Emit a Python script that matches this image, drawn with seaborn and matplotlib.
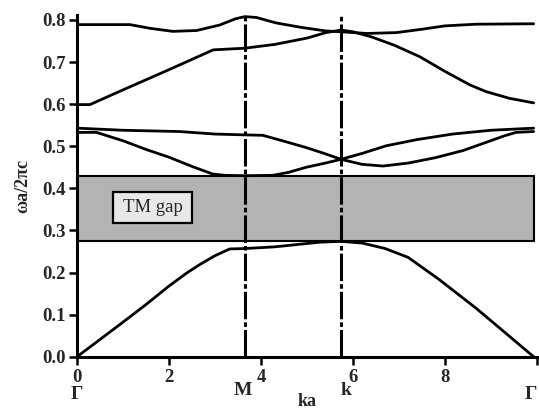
import matplotlib
matplotlib.use("Agg")
import matplotlib.pyplot as plt
from matplotlib.patches import Rectangle
import matplotlib.transforms as mtransforms
import numpy as np
import pandas as pd
import seaborn as sns

# symmetry points along Gamma - M - K - Gamma (ka)
sym_names = ["Γ", "M", "k", "Γ"]
sym_ka = [0.0, 3.65, 5.74, 9.93]

# photonic bands (ka, omega a / 2 pi c)
band1_ka = [0, 0.5, 1.07, 1.5, 2.0, 2.4, 2.67, 3.0, 3.32, 3.65, 4.3, 5.27, 5.74,
            6.2, 6.7, 7.2, 7.88, 8.68, 9.3, 9.93]
band1_w = [0, 0.041, 0.088, 0.124, 0.168, 0.2, 0.219, 0.24, 0.256, 0.257, 0.261,
           0.272, 0.274, 0.27, 0.257, 0.236, 0.183, 0.115, 0.058, 0]

band2_ka = [0, 0.42, 1.0, 1.51, 2.0, 2.5, 2.95, 3.2, 3.65, 4.26, 4.6, 4.98, 5.4,
            5.74, 6.2, 6.72, 7.4, 8.17, 9.0, 9.93]
band2_w = [0.533, 0.533, 0.513, 0.492, 0.474, 0.452, 0.434, 0.431, 0.43, 0.431,
           0.438, 0.45, 0.46, 0.469, 0.483, 0.501, 0.516, 0.529, 0.538, 0.543]

band3_ka = [0, 1.0, 2.22, 3.0, 3.65, 4.04, 4.5, 4.98, 5.4, 5.74, 6.2, 6.65, 7.2,
            7.8, 8.4, 8.89, 9.3, 9.55, 9.93]
band3_w = [0.543, 0.538, 0.535, 0.529, 0.527, 0.526, 0.512, 0.497, 0.482, 0.469,
           0.457, 0.453, 0.46, 0.473, 0.49, 0.509, 0.525, 0.533, 0.535]

band4_ka = [0, 0.28, 1.0, 2.0, 2.96, 3.65, 4.3, 5.0, 5.41, 5.74, 6.0, 6.4, 6.9,
            7.45, 8.0, 8.54, 8.89, 9.4, 9.93]
band4_w = [0.599, 0.599, 0.634, 0.682, 0.729, 0.733, 0.742, 0.757, 0.77, 0.776,
           0.772, 0.76, 0.74, 0.713, 0.678, 0.646, 0.63, 0.614, 0.603]

band5_ka = [0, 1.15, 1.6, 2.08, 2.6, 3.1, 3.45, 3.65, 3.9, 4.33, 4.9, 5.41, 5.74,
            6.3, 6.94, 7.5, 8.0, 8.68, 9.93]
band5_w = [0.789, 0.789, 0.78, 0.773, 0.775, 0.788, 0.803, 0.808, 0.806, 0.793,
           0.782, 0.774, 0.772, 0.768, 0.77, 0.778, 0.786, 0.79, 0.791]

# TM band gap
gap_lo, gap_hi = 0.274, 0.43
gap_label = "TM gap"

x_ticks = [0, 2, 4, 6, 8, 10]
x_ticklabels = ["0", "2", "4", "6", "8", ""]
y_ticks = [0.0, 0.1, 0.2, 0.3, 0.4, 0.5, 0.6, 0.7, 0.8]


def main():
    bands = [(band1_ka, band1_w), (band2_ka, band2_w), (band3_ka, band3_w),
             (band4_ka, band4_w), (band5_ka, band5_w)]
    df = pd.concat(
        [pd.DataFrame({"ka": k, "w": w, "band": i}) for i, (k, w) in enumerate(bands)],
        ignore_index=True,
    )

    sns.set_style("ticks")
    plt.rcParams["font.family"] = ["Liberation Serif", "DejaVu Serif"]

    fig = plt.figure(figsize=(5.39, 4.15), dpi=100)
    ax = fig.add_axes([0.143, 0.1405, 0.853, 0.8235])

    # gap band
    ax.add_patch(Rectangle((0, gap_lo), sym_ka[-1], gap_hi - gap_lo,
                           facecolor="#b3b3b3", edgecolor="black", lw=1.5, zorder=1))
    ax.add_patch(Rectangle((0.78, 0.317), 1.72, 0.075,
                           facecolor="#e8e8e8", edgecolor="black", lw=1.6, zorder=2))
    ax.text(1.64, 0.3545, gap_label, ha="center", va="center", fontsize=13.5,
            family="Liberation Serif", zorder=3)

    sns.lineplot(data=df, x="ka", y="w", hue="band", units="band", estimator=None,
                 palette=["black"] * 5, legend=False, lw=2.0, ax=ax, zorder=4)

    for k in sym_ka[1:3]:
        ax.axvline(k, color="black", lw=2.2, linestyle=(0, (9, 1.0, 1.5, 1.0)), zorder=5)

    ax.set_xlim(0, 10)
    ax.set_ylim(0, 0.812)
    ax.set_xticks(x_ticks)
    ax.set_xticklabels(x_ticklabels)
    ax.set_yticks(y_ticks)
    ax.set_yticklabels([f"{v:.1f}" for v in y_ticks])
    for lab in ax.get_xticklabels() + ax.get_yticklabels():
        lab.set_fontweight("bold")
        lab.set_fontsize(13.5)
    ax.tick_params(direction="out", length=6, width=1.8, color="black")
    ax.tick_params(axis="y", pad=2)
    ax.tick_params(axis="x", pad=3)
    sns.despine(ax=ax)
    for s in ["left", "bottom"]:
        ax.spines[s].set_linewidth(2.2)
        ax.spines[s].set_color("black")

    # symmetry point labels under the tick numbers
    trans = mtransforms.blended_transform_factory(ax.transData, ax.transAxes)
    xpos = [0.0, 3.6, 5.84, 9.88]
    ys = [-0.112, -0.1, -0.1, -0.112]
    for name, k, yy in zip(sym_names, xpos, ys):
        ax.text(k, yy, name, transform=trans, ha="center", va="center",
                fontsize=14, fontweight="bold")

    ax.set_xlabel("ka", fontsize=13, fontweight="bold", labelpad=5)
    ax.set_ylabel("ωa/2πc", fontsize=13, fontweight="bold", labelpad=8)

    fig.savefig("out.png", dpi=100)


if __name__ == "__main__":
    main()
